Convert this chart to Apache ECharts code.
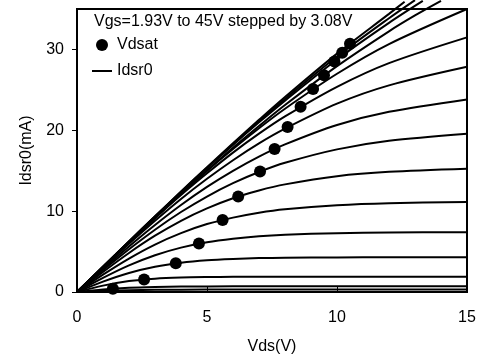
<!DOCTYPE html>
<html>
<head>
<meta charset="utf-8">
<script src="https://cdn.jsdelivr.net/npm/echarts@6/dist/echarts.min.js"></script>
<style>html,body{margin:0;padding:0;background:#fff;}#c{width:479px;height:360px;}</style>
</head>
<body>
<div id="c"></div>
<script>
// Axis ticks
const xTicks = [0, 5, 10, 15];
const yTicks = [0, 10, 20, 30];

// Vdsat points
const vdsatV = [1.38, 2.58, 3.8, 4.69, 5.6, 6.2, 7.04, 7.6, 8.1, 8.6, 9.08, 9.5, 9.9, 10.2, 10.5];
const vdsatI = [0.4, 1.55, 3.55, 6.0, 8.9, 11.8, 14.9, 17.7, 20.4, 22.9, 25.1, 26.8, 28.5, 29.6, 30.7];

// Idsr0 curves [Vds, Ids] (lowest to highest Vgs)
const curve01 = [[0,0],[1,0.14],[2,0.23],[3,0.27],[4,0.29],[6,0.3],[10,0.3],[15,0.3]];
const curve02 = [[0,0],[1,0.31],[2,0.52],[3,0.62],[4,0.67],[5,0.69],[7,0.7],[10,0.7],[15,0.7]];
const curve03 = [[0,0],[1,0.79],[2,1.35],[3,1.65],[4,1.79],[5,1.85],[6,1.88],[8,1.9],[15,1.9]];
const curve04 = [[0,0],[1,1.29],[2,2.36],[3,3.13],[4,3.63],[5,3.93],[6,4.09],[7,4.19],[8,4.24],[10,4.28],[12,4.3],[15,4.3]];
const curve05 = [[0,0],[1,1.74],[2,3.29],[3,4.55],[4,5.49],[5,6.16],[6,6.6],[7,6.9],[8,7.08],[10,7.28],[12,7.35],[15,7.4]];
const curve06 = [[0,0],[1,2.15],[2,4.14],[3,5.87],[4,7.28],[5,8.4],[6,9.2],[7,9.81],[8,10.24],[10,10.74],[12,10.99],[15,11.13]];
const curve07 = [[0,0],[1,2.48],[2,4.83],[3,6.96],[4,8.81],[5,10.34],[6,11.6],[7,12.56],[8,13.31],[10,14.32],[12,14.86],[15,15.25]];
const curve08 = [[0,0],[1,2.68],[2,5.28],[3,7.7],[4,9.89],[5,11.81],[6,13.46],[7,14.84],[8,15.98],[10,17.64],[12,18.7],[15,19.57]];
const curve09 = [[0,0],[1,2.86],[2,5.64],[3,8.29],[4,10.76],[5,13.0],[6,14.99],[7,16.75],[8,18.26],[10,20.66],[12,22.29],[15,23.82]];
const curve10 = [[0,0],[1,3.01],[2,5.96],[3,8.81],[4,11.51],[5,14.0],[6,16.3],[7,18.38],[8,20.2],[10,23.29],[12,25.55],[15,27.85]];
const curve11 = [[0,0],[1,3.1],[2,6.16],[3,9.13],[4,11.99],[5,14.68],[6,17.24],[7,19.58],[8,21.71],[10,25.37],[12,28.3],[15,31.49]];
const curve12 = [[0,0],[1,3.11],[2,6.2],[3,9.23],[4,12.16],[5,15.01],[6,17.7],[7,20.26],[8,22.67],[10,26.99],[12,30.66],[15,35.0]];
const curve13 = [[0,0],[1,3.08],[2,6.13],[3,9.16],[4,12.11],[5,15.0],[6,17.83],[7,20.52],[8,23.12],[10,27.93],[12,32.24],[13,34.2],[14,36.0]];
const curve14 = [[0,0],[1,3.13],[2,6.24],[3,9.32],[4,12.34],[5,15.31],[6,18.19],[7,20.98],[8,23.67],[10,28.76],[12,33.29],[13.3,36.0]];
const curve15 = [[0,0],[1,3.13],[2,6.24],[3,9.33],[4,12.37],[5,15.37],[6,18.29],[7,21.13],[8,23.87],[10,29.12],[12,33.86],[13,36.1]];
const curve16 = [[0,0],[1,3.14],[2,6.26],[3,9.37],[4,12.42],[5,15.44],[6,18.4],[7,21.29],[8,24.11],[10,29.48],[12,34.4],[12.6,35.9]];

const curves = [curve01, curve02, curve03, curve04, curve05, curve06, curve07, curve08,
  curve09, curve10, curve11, curve12, curve13, curve14, curve15, curve16];

const FONT = '"Liberation Sans", Arial, sans-serif';

const lineSeries = curves.map(c => ({
  name: 'Idsr0',
  type: 'line',
  data: c,
  symbol: 'none',
  smooth: 0.3,
  clip: false,
  lineStyle: { color: '#000', width: 2 },
  itemStyle: { color: '#000' },
  z: 2,
  silent: true
}));

const chart = echarts.init(document.getElementById('c'), null, { renderer: 'canvas' });
chart.setOption({
  animation: false,
  backgroundColor: '#fff',
  title: {
    text: 'Vgs=1.93V to 45V stepped by 3.08V',
    left: 89, top: 9,
    textStyle: { fontFamily: FONT, fontSize: 16, fontWeight: 'normal', color: '#000' }
  },
  legend: {
    orient: 'vertical',
    left: 87, top: 32,
    itemWidth: 20, itemHeight: 12, itemGap: 10,
    textStyle: { fontFamily: FONT, fontSize: 16, color: '#000' },
    data: [
      { name: 'Vdsat', icon: 'circle', itemStyle: { color: '#000', opacity: 1 } },
      { name: 'Idsr0', icon: 'path://M0,0L0.01,0M0,5L20,5L20,7L0,7ZM0,12L0.01,12', itemStyle: { color: '#000' } }
    ]
  },
  grid: {
    left: 77, right: 12, top: 9, bottom: 65,
    show: true, borderColor: '#000', borderWidth: 2, backgroundColor: 'transparent'
  },
  xAxis: {
    type: 'value', min: 0, max: 15, interval: 5,
    name: 'Vds(V)', nameLocation: 'middle', nameGap: 47,
    nameTextStyle: { fontFamily: FONT, fontSize: 16, color: '#000' },
    axisLine: { lineStyle: { color: '#000', width: 2 } },
    axisTick: { show: true, inside: true, length: 5, customValues: xTicks, lineStyle: { color: '#000', width: 1 } },
    axisLabel: { customValues: xTicks, fontFamily: FONT, fontSize: 16, color: '#000', margin: 18 },
    splitLine: { show: false }
  },
  yAxis: {
    type: 'value', min: 0, max: 35, interval: 10,
    name: 'Idsr0(mA)', nameLocation: 'middle', nameGap: 42,
    nameTextStyle: { fontFamily: FONT, fontSize: 16, color: '#000' },
    axisLine: { lineStyle: { color: '#000', width: 2 } },
    axisTick: { show: true, inside: false, length: 5, customValues: yTicks, lineStyle: { color: '#000', width: 1 } },
    axisLabel: { customValues: yTicks, fontFamily: FONT, fontSize: 16, color: '#000', margin: 13 },
    splitLine: { show: false }
  },
  series: lineSeries.concat([{
    name: 'Vdsat',
    type: 'scatter',
    data: vdsatV.map((v, i) => [v, vdsatI[i]]),
    symbol: 'circle',
    symbolSize: 12,
    itemStyle: { color: '#000', opacity: 1 },
    z: 5,
    silent: true
  }])
});
</script>
</body>
</html>
